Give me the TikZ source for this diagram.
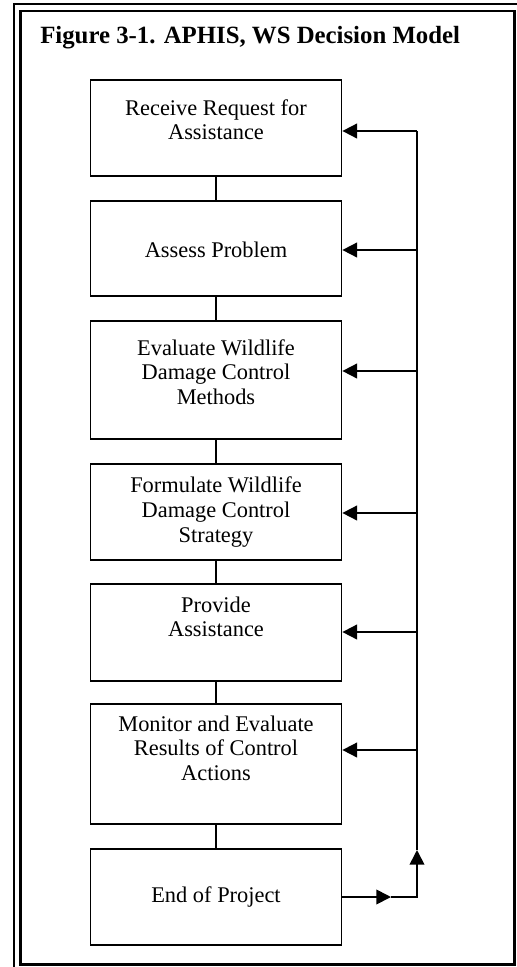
\documentclass[tikz,border=0pt]{standalone}
\usepackage{fontspec}
\setmainfont{Liberation Serif}
\usetikzlibrary{arrows.meta}
\usetikzlibrary{positioning}

\begin{document}
\begin{tikzpicture}[x=0.75pt, y=-0.75pt,
    stage/.style={draw, line width=1.3pt, minimum width=188.25pt, inner sep=0pt},
    stagetext/.style={align=center, font=\fontsize{16.8}{18.4}\selectfont},
    link/.style={line width=1.3pt},
    feed/.style={-{Triangle[length=11pt,width=11pt]}, line width=1.3pt}]
        \useasboundingbox (0,0) rectangle (517,967);

        % Double frame round the figure
        \draw[line width=0.8pt] (14,4) rectangle (519,969);
        \draw[line width=2.2pt] (20.5,11) rectangle (514.5,964.5);

        \node[font=\bfseries\fontsize{18.6}{22}\selectfont, anchor=base west, inner sep=0pt] (title) at (40,43) {Figure 3-1. APHIS, WS Decision Model};

        % Decision steps
        \node[stage, minimum height=72pt]    (b1) at (216,128)   {};
        \node[stage, minimum height=71.25pt] (b2) at (216,248.5) {};
        \node[stage, minimum height=88.5pt]  (b3) at (216,380)   {};
        \node[stage, minimum height=72pt]    (b4) at (216,512)   {};
        \node[stage, minimum height=72.75pt] (b5) at (216,632.5) {};
        \node[stage, minimum height=90pt]    (b6) at (216,764)   {};
        \node[stage, minimum height=72pt]    (b7) at (216,897)   {};

        \node[stagetext] (t1) at (216,119.5) {Receive Request for\\Assistance};
        \node[stagetext] (t2) at (216,250)   {Assess Problem};
        \node[stagetext] (t3) at (216,372)   {Evaluate Wildlife\\Damage Control\\Methods};
        \node[stagetext] (t4) at (216,512)   {Formulate Wildlife\\Damage Control\\Strategy};
        \node[stagetext] (t5) at (216,617)   {Provide\\Assistance};
        \node[stagetext] (t6) at (216,748)   {Monitor and Evaluate\\Results of Control\\Actions};
        \node[stagetext] (t7) at (216,897)   {End of Project};

        % Links between steps
        \foreach \a/\b in {1/2,2/3,3/4,4/5,5/6,6/7}
            \draw[link] (b\a) -- (b\b);

        % Feedback loop
        \coordinate (fbtop) at (417,131);
        \coordinate (fbup) at (417,850);
        \coordinate (endmid) at (391,897);
        \draw[feed] (b7.east) -- (endmid);
        \draw[feed] (endmid) -| (fbup);
        \draw[link] (fbup) -- (fbtop);
        \foreach \n/\y in {1/131,2/250,3/371,4/513,5/632,6/750} {
            \coordinate (fb\n) at (417,\y);
            \draw[feed] (fb\n) -- (fb\n -| b\n.east);
        }
    \end{tikzpicture}
\end{document}
